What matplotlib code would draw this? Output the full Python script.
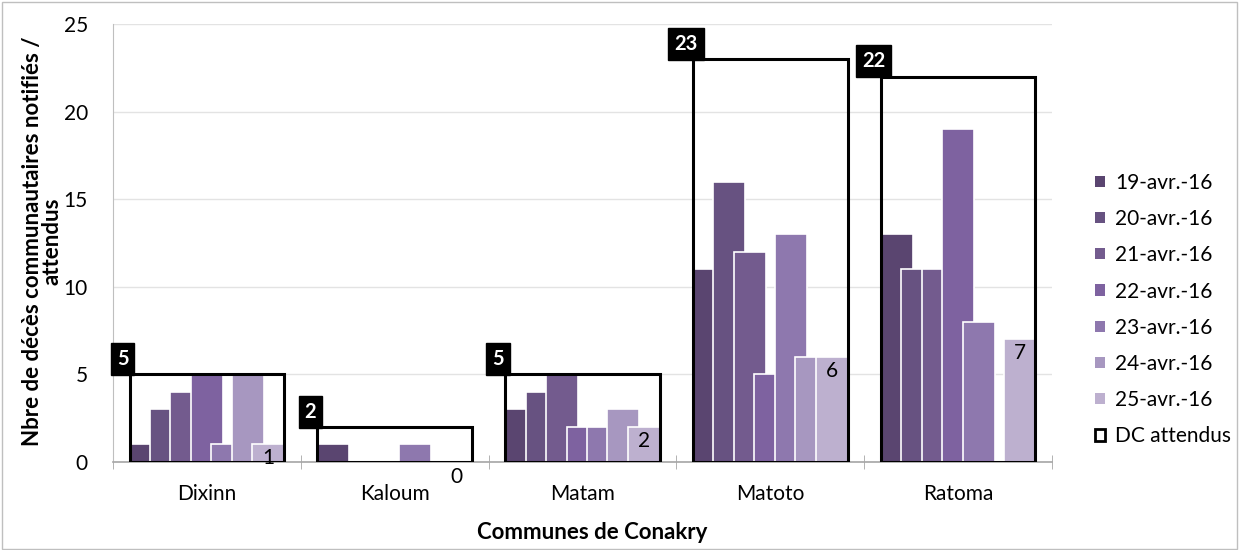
import matplotlib.pyplot as plt
from matplotlib.patches import Patch, Rectangle
import numpy as np

plt.rcParams['font.family'] = ['Lato', 'DejaVu Sans']

communes = ['Dixinn', 'Kaloum', 'Matam', 'Matoto', 'Ratoma']
dates = ['19-avr.-16', '20-avr.-16', '21-avr.-16', '22-avr.-16',
         '23-avr.-16', '24-avr.-16', '25-avr.-16']

# notified community deaths per day and commune
d19 = [1, 1, 3, 11, 13]
d20 = [3, 0, 4, 16, 11]
d21 = [4, 0, 5, 12, 11]
d22 = [5, 0, 2, 5, 19]
d23 = [1, 1, 2, 13, 8]
d24 = [5, 0, 3, 6, 0]
d25 = [1, 0, 2, 6, 7]
series = [d19, d20, d21, d22, d23, d24, d25]

# expected deaths (DC attendus)
expected = [5, 2, 5, 23, 22]

colors = ['#5a4570', '#675281', '#735b8e', '#7e62a0',
          '#8e78ae', '#a797c0', '#bdb0cf']

fig = plt.figure(figsize=(12.39, 5.5), dpi=100)
ax = fig.add_axes([113 / 1239, 0.16, 939 / 1239, 0.7964])

x = np.arange(len(communes))
bar_w = 0.17
step = 0.109
group_w = 6 * step + bar_w
start = x - group_w / 2

for i, vals in enumerate(series):
    ax.bar(start + i * step, vals, width=bar_w, align='edge',
           color=colors[i], edgecolor='white', linewidth=1.2, zorder=3 + i)

# expected deaths as outlined boxes over each group
ax.bar(start, expected, width=group_w, align='edge', fill=False,
       edgecolor='black', linewidth=2.2, zorder=20)
for xl, v in zip(start, expected):
    ax.annotate(str(v), xy=(xl, v), xytext=(-5, 11), textcoords='offset points',
                ha='center', va='center', color='white', fontsize=14.5,
                fontweight='bold', zorder=25,
                bbox=dict(boxstyle='square,pad=0.3', fc='black', ec='black'))

# labels on the last day
for xl, v in zip(start + 6 * step, d25):
    if v > 0:
        ax.annotate(str(v), xy=(xl + bar_w / 2, v), xytext=(0, -10),
                    textcoords='offset points', ha='center', va='center',
                    fontsize=15, zorder=30)
    else:
        ax.annotate(str(v), xy=(xl + bar_w / 2, v), xytext=(0, -11),
                    textcoords='offset points', ha='center', va='center',
                    fontsize=15, zorder=30, annotation_clip=False)

ax.set_xlim(-0.5, len(communes) - 0.5)
ax.set_ylim(0, 25)
ax.set_yticks([0, 5, 10, 15, 20, 25])
ax.yaxis.grid(True, color='#e3e3e3', linewidth=1)
ax.set_axisbelow(True)
ax.tick_params(axis='y', length=0, labelsize=15, pad=18)

ax.set_xticks(x)
ax.set_xticklabels(communes, fontsize=15)
ax.set_xticks(np.arange(-0.5, len(communes)), minor=True)
ax.tick_params(axis='x', which='major', length=0, pad=16)
ax.tick_params(axis='x', which='minor', length=10, direction='inout',
               color='#a6a6a6')

for s in ['top', 'right']:
    ax.spines[s].set_visible(False)
ax.spines['left'].set_color('#bfbfbf')
ax.spines['bottom'].set_color('#a6a6a6')
ax.spines['bottom'].set_linewidth(1.2)

ax.set_xlabel('Communes de Conakry', fontsize=16, fontweight='bold')
ax.xaxis.set_label_coords(0.51, -0.138)
ax.set_ylabel('Nbre de décès communautaires notifiés /\nattendus',
              fontsize=16, fontweight='bold', linespacing=0.9)
ax.yaxis.set_label_coords(-0.054, 0.505)

handles = [Patch(facecolor=c, edgecolor='none', label=d)
           for c, d in zip(colors, dates)]
handles.append(Patch(facecolor='white', edgecolor='black', linewidth=2,
                     label='DC attendus'))
fig.legend(handles=handles, loc='upper left', bbox_to_anchor=(0.869, 0.72),
           frameon=False, fontsize=15, handlelength=0.45, handleheight=0.45,
           handletextpad=0.5, labelspacing=0.78)

fig.patches.append(Rectangle((0.002, 0.002), 0.996, 0.994, transform=fig.transFigure,
                             fill=False, edgecolor='#bfbfbf', linewidth=1))

fig.savefig('out.png', dpi=100)
